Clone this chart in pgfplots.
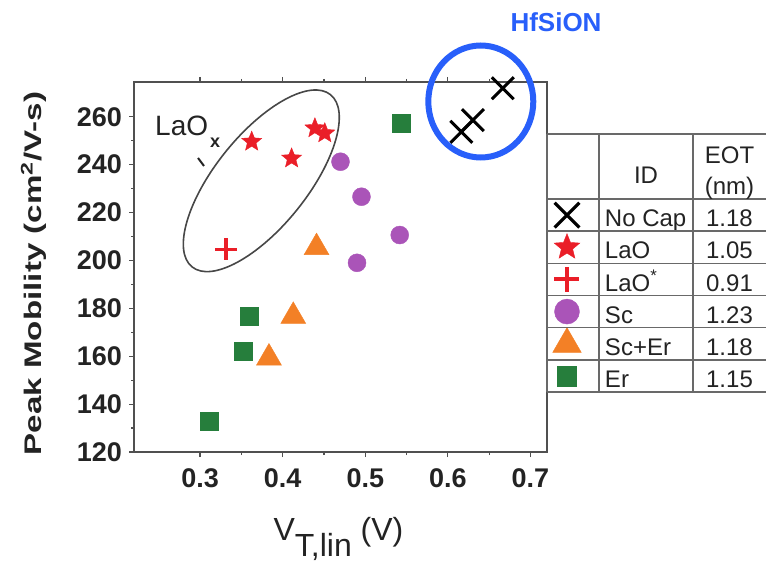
\documentclass[border=0pt]{standalone}
\usepackage{fontspec}
\setmainfont{Liberation Sans}
\usepackage{graphicx}
\usepackage{pgfplots}
\pgfplotsset{compat=1.18}

\definecolor{capblue}{RGB}{40,95,250}
\definecolor{laored}{RGB}{234,30,40}
\definecolor{scpurple}{RGB}{170,84,184}
\definecolor{erorange}{RGB}{243,128,38}
\definecolor{ergreen}{RGB}{38,126,60}
\definecolor{framegray}{RGB}{80,80,80}
\definecolor{gridgray}{RGB}{105,105,105}
\definecolor{inkdark}{RGB}{35,35,35}

% filled five-pointed star
\pgfdeclareplotmark{fstar}{%
  \pgfpathmoveto{\pgfpointpolar{90}{\pgfplotmarksize}}%
  \pgfpathlineto{\pgfpointpolar{126}{0.44\pgfplotmarksize}}%
  \pgfpathlineto{\pgfpointpolar{162}{\pgfplotmarksize}}%
  \pgfpathlineto{\pgfpointpolar{198}{0.44\pgfplotmarksize}}%
  \pgfpathlineto{\pgfpointpolar{234}{\pgfplotmarksize}}%
  \pgfpathlineto{\pgfpointpolar{270}{0.44\pgfplotmarksize}}%
  \pgfpathlineto{\pgfpointpolar{306}{\pgfplotmarksize}}%
  \pgfpathlineto{\pgfpointpolar{342}{0.44\pgfplotmarksize}}%
  \pgfpathlineto{\pgfpointpolar{18}{\pgfplotmarksize}}%
  \pgfpathlineto{\pgfpointpolar{54}{0.44\pgfplotmarksize}}%
  \pgfpathclose
  \pgfusepathqfillstroke
}

% legend key drawn in a fixed-size table cell
\pgfplotsset{tabkey/.style={legend image code/.code={%
  \path[draw=none, fill=none] (0pt,-16.085pt) rectangle (52pt,16.085pt);
  \draw[##1] plot coordinates {(20pt,0pt)};}}}

\newcommand{\rowentry}[2]{\hspace*{6pt}\makebox[88pt][l]{#1}\makebox[73pt][c]{#2}\rule[-7.5pt]{0pt}{32.17pt}}

\begin{document}
\begin{tikzpicture}[x=1pt,y=1pt]
\useasboundingbox (0,0) rectangle (766,563);

% LaOx grouping ellipse (under the marks)
\draw[black!72, line width=1.6pt, rotate around={51.2:(261.3,382.2)}]
  (261.3,382.2) ellipse [x radius=110.5pt, y radius=46pt];

\begin{scope}[xshift=134pt, yshift=111pt]
\begin{axis}[
  anchor=south west,
  scale only axis, width=413pt, height=370pt,
  xmin=0.22, xmax=0.72, ymin=120, ymax=274.5,
  xtick={0.3,0.4,0.5,0.6,0.7}, ytick={120,140,...,260},
  minor x tick num=1, minor y tick num=1,
  tick align=outside, xtick pos=both, ytick pos=left,
  major tick length=5pt, minor tick length=3pt,
  tick style={framegray, line width=1.2pt},
  axis line style={framegray, line width=1.6pt},
  /pgf/number format/assume math mode=true,
  xticklabel={\pgfmathprintnumber[fixed,fixed zerofill,precision=1]{\tick}},
  yticklabel={\pgfmathprintnumber[fixed,precision=0]{\tick}},
  ticklabel style={font=\fontsize{27}{30}\selectfont\bfseries, text=inkdark, inner sep=0pt},
  xticklabel shift=11pt, yticklabel shift=7pt,
  clip=false,
  legend cell align=left,
  legend style={at={(1,0.6838)}, anchor=north west, draw=none, fill=none,
    inner sep=0pt, outer sep=0pt, row sep=0pt, column sep=0pt,
    font=\fontsize{24}{28}\selectfont, text=inkdark,
    cells={anchor=west}, nodes={inner sep=0pt, outer sep=0pt}},
]
\addplot[only marks, mark=x, mark size=15.5pt, line width=3pt, draw=black, tabkey,
  legend image post style={mark size=17.5pt, line width=3.2pt}]
  coordinates {(0.6665,271.9) (0.6303,258.6) (0.6163,253.7)};
\addlegendentry{\rowentry{No Cap}{1.18}}

\addplot[only marks, mark=fstar, mark size=10.5pt, line width=0.4pt, color=laored, tabkey,
  legend image post style={mark size=13.5pt}]
  coordinates {(0.3625,249.6) (0.4108,242.6) (0.4390,255.2) (0.4510,253.1)};
\addlegendentry{\rowentry{LaO}{1.05}}

\addplot[only marks, mark=+, mark size=11pt, line width=3.5pt, color=laored, tabkey,
  legend image post style={mark size=12.5pt, line width=4pt}]
  coordinates {(0.3314,204.6)};
\addlegendentry{\rowentry{LaO\textsuperscript{*}}{0.91}}

\addplot[only marks, mark=*, mark size=9pt, line width=0.4pt, color=scpurple, tabkey,
  legend image post style={mark size=12.5pt}]
  coordinates {(0.4700,241.2) (0.4954,226.6) (0.5417,210.6) (0.4900,199.0)};
\addlegendentry{\rowentry{Sc}{1.23}}

\addplot[only marks, mark=triangle*, mark size=14.4pt, line width=0.4pt, color=erorange, tabkey,
  legend image post style={mark size=16.5pt}]
  coordinates {(0.4410,205.4) (0.4128,176.7) (0.3834,159.3)};
\addlegendentry{\rowentry{Sc+Er}{1.18}}

\addplot[only marks, mark=square*, mark size=9pt, line width=0.4pt, color=ergreen, tabkey,
  legend image post style={mark size=9.7pt}]
  coordinates {(0.5437,257.2) (0.3592,176.5) (0.3523,161.9) (0.3109,132.7)};
\addlegendentry{\rowentry{Er}{1.15}}
\end{axis}
\end{scope}

% table grid around the legend
\begin{scope}[draw=gridgray, line width=1.6pt]
  \draw (547,429) -- (766,429);
  \foreach \yy in {364,331.83,299.67,267.5,235.33,203.17,171} {
    \draw (547,\yy) -- (766,\yy);
  }
  \foreach \xx in {547,599,693} {
    \draw (\xx,429) -- (\xx,171);
  }
\end{scope}

% table header
\begin{scope}[every node/.style={font=\fontsize{24}{28}\selectfont, text=inkdark, inner sep=0pt, anchor=base}]
  \node at (646,379.7) {ID};
  \node at (729.5,399.7) {EOT};
  \node at (729.5,368) {(nm)};
\end{scope}

% axis titles
\node[rotate=90, anchor=base, font=\fontsize{24}{26}\selectfont\bfseries, text=inkdark]
  at (41.7,289.5) {\scalebox{1.38}[1]{Peak Mobility (cm\textsuperscript{2}/V-s)}};
\node[anchor=base west, font=\fontsize{32}{34}\selectfont, text=inkdark]
  at (270,23) {V\raisebox{-16pt}{T,lin} (V)};

% annotations
\node[anchor=base west, font=\fontsize{28}{30}\selectfont, text=inkdark, inner sep=0pt]
  at (155,427) {LaO\kern2pt\raisebox{-12pt}{\fontsize{18}{20}\selectfont\bfseries x}};
\draw[line width=2pt, inkdark] (198,405) -- (204,397);
\node[anchor=base, font=\fontsize{26}{28}\selectfont\bfseries, text=capblue, inner sep=0pt]
  at (556,531.3) {HfSiON};
\draw[capblue, line width=6pt] (480.8,461.5) ellipse [x radius=52.5pt, y radius=56pt];
\end{tikzpicture}
\end{document}
